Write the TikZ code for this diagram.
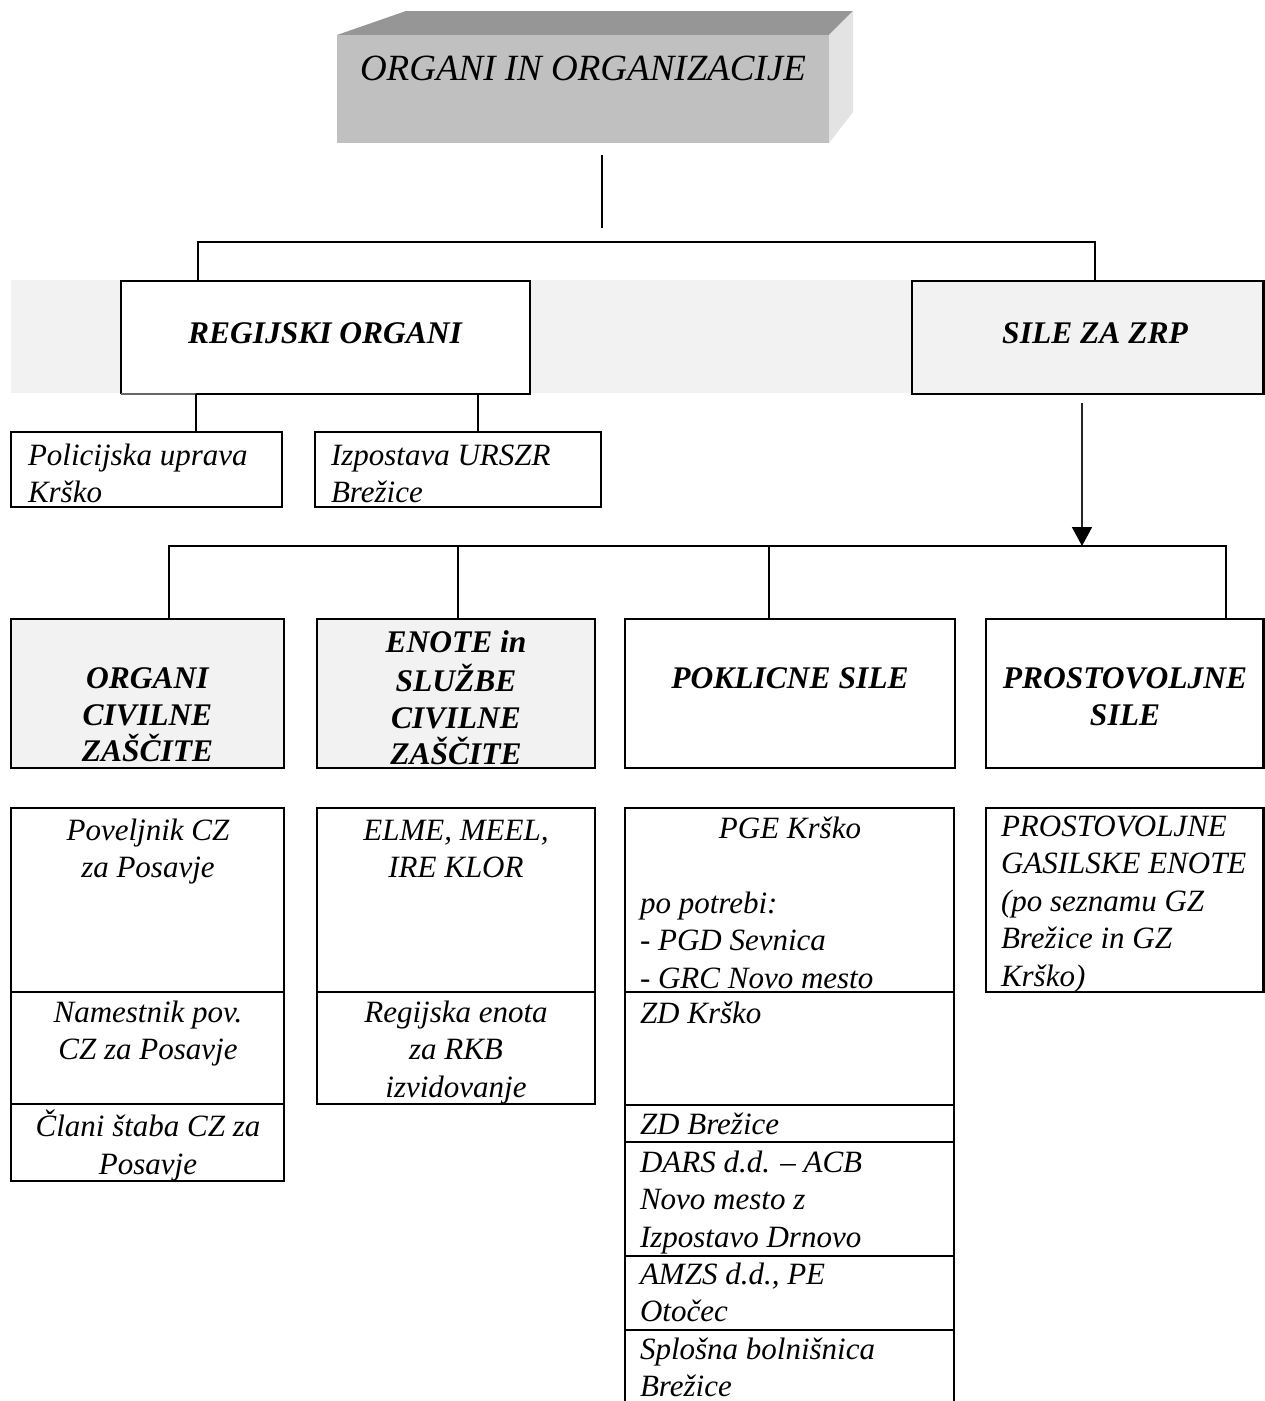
\documentclass[tikz,border=0pt]{standalone}
\usepackage{fontspec}
\setmainfont{Liberation Serif}
\usetikzlibrary{arrows.meta}
\definecolor{band}{HTML}{F2F2F2}
\definecolor{frontgray}{HTML}{C0C0C0}
\definecolor{topgray}{HTML}{969696}
\definecolor{sidegray}{HTML}{E3E3E3}
\begin{document}
\begin{tikzpicture}[x=1pt,y=-1pt,
  box/.style={draw=black,line width=2.9pt,inner sep=0pt,outer sep=0pt,anchor=north west,fill=white},
  shaded/.style={box,fill=band},
  conn/.style={draw=black,line width=2.9pt},
  body/.style={inner sep=0pt,outer sep=0pt,font=\fontsize{31}{37.5}\selectfont\itshape},
  bodyc/.style={body,align=center,anchor=north},
  bodyl/.style={body,align=left,anchor=north west},
  head/.style={inner sep=0pt,outer sep=0pt,font=\fontsize{31.5}{36.5}\selectfont\bfseries\itshape,align=center,anchor=north},
]
\useasboundingbox (0,0) rectangle (1265,1401);
\fill[white] (0,0) rectangle (1265,1401);

% grey band behind the first level
\fill[band] (11,280) rectangle (1265,393);

% 3D title box
\fill[topgray] (337,35) -- (406,11) -- (853,11) -- (829,35) -- cycle;
\fill[sidegray] (829,35) -- (853,11) -- (853,112) -- (829,143) -- cycle;
\node[fill=frontgray,inner sep=0pt,outer sep=0pt,minimum width=492pt,minimum height=108pt,anchor=north west] (top) at (337,35) {};
\node[inner sep=0pt,font=\fontsize{37}{44}\selectfont\itshape] (toptxt) at (583,68) {ORGANI IN ORGANIZACIJE};

\coordinate (t1) at (602,155);
\coordinate (t2) at (602,228);
\draw[line width=2pt] (t1) -- (t2);

% first level
\node[box,draw=none,minimum width=409pt,minimum height=113pt] (reg) at (121,281) {};
\draw[conn,line join=miter] ([xshift=75pt]reg.south west) -- (reg.south east) -- (reg.north east) -- (reg.north west) -- (reg.south west);
\draw[black!60,line width=1.3pt] (reg.south west) -- ([xshift=75pt]reg.south west);
\node[head] (regtxt) at (325,323) {REGIJSKI ORGANI};

\node[box,fill=none,minimum width=351.5pt,minimum height=113pt] (sile) at (912,281) {};
\node[head] (siletxt) at (1095,323) {SILE ZA ZRP};

\coordinate (b1) at (198,242);
\coordinate (b2) at (1095,242);
\draw[conn,line join=miter] (b1 |- reg.north) -- (b1) -- (b2) -- (b2 |- sile.north);

% regional bodies
\node[box,minimum width=271pt,minimum height=75pt] (pol) at (11,432) {};
\node[box,minimum width=286pt,minimum height=75pt] (izp) at (315,432) {};
\node[bodyl] (poltxt) at (28,439) {\strut Policijska uprava\\Krško};
\node[bodyl] (izptxt) at (331,439) {\strut Izpostava URSZR\\Brežice};
\coordinate (k1) at (196,394);
\coordinate (k2) at (478,394);
\draw[conn] (k1) -- (k1 |- pol.north);
\draw[conn] (k2) -- (k2 |- izp.north);

% second level
\node[shaded,minimum width=273pt,minimum height=149pt] (ocz) at (11,619) {};
\node[shaded,minimum width=278pt,minimum height=149pt] (enote) at (317,619) {};
\node[box,minimum width=330pt,minimum height=149pt] (pokl) at (625,619) {};
\node[box,minimum width=277.5pt,minimum height=149pt] (pros) at (986,619) {};
\node[head] (ocztxt) at (147.5,663) {\strut ORGANI\\CIVILNE\\ZAŠČITE};
\node[head] (enotetxt) at (456,627) {\strut ENOTE in\\SLUŽBE\\CIVILNE\\ZAŠČITE};
\node[head] (pokltxt) at (790,663) {\strut POKLICNE SILE};
\node[head] (prostxt) at (1125,663) {\strut PROSTOVOLJNE\\SILE};

\coordinate (s1) at (169,546);
\coordinate (s2) at (458,546);
\coordinate (s3) at (769,546);
\coordinate (s4) at (1226,546);
\draw[conn,line join=miter] (s1 |- ocz.north) -- (s1) -- (s4) -- (s4 |- pros.north);
\draw[conn] (s2) -- (s2 |- enote.north);
\draw[conn] (s3) -- (s3 |- pokl.north);

\coordinate (a1) at (1082,403);
\draw[line width=1.6pt,black!85,-{Triangle[width=20pt,length=19pt,black]}] (a1) -- (a1 |- s1);

% lower columns
\node[box,minimum width=273pt,minimum height=184pt] (pov) at (11,808) {};
\node[box,minimum width=273pt,minimum height=112pt] (nam) at (11,992) {};
\node[box,minimum width=273pt,minimum height=77pt] (cla) at (11,1104) {};
\node[bodyc] (povtxt) at (148,814) {\strut Poveljnik CZ\\za Posavje};
\node[bodyc] (namtxt) at (148,996) {\strut Namestnik pov.\\CZ za Posavje};
\node[bodyc] (clatxt) at (148,1110) {\strut Člani štaba CZ za\\Posavje};

\node[box,minimum width=278pt,minimum height=184pt] (elme) at (317,808) {};
\node[box,minimum width=278pt,minimum height=112pt] (rkb) at (317,992) {};
\node[bodyc] (elmetxt) at (456,814) {\strut ELME, MEEL,\\IRE KLOR};
\node[bodyc] (rkbtxt) at (456,996) {\strut Regijska enota\\za RKB\\izvidovanje};

\node[box,minimum width=329pt,minimum height=184pt] (pge) at (625,808) {};
\node[box,minimum width=329pt,minimum height=113pt] (zdk) at (625,992) {};
\node[box,minimum width=329pt,minimum height=37pt] (zdb) at (625,1105) {};
\node[box,minimum width=329pt,minimum height=114pt] (dars) at (625,1142) {};
\node[box,minimum width=329pt,minimum height=74pt] (amzs) at (625,1256) {};
\node[box,draw=none,minimum width=329pt,minimum height=80pt] (spl) at (625,1330) {};
\draw[conn,line join=miter] (spl.south west) -- (spl.north west) -- (spl.north east) -- (spl.south east);
\node[bodyc] (pgetxt) at (790,812) {\strut PGE Krško};
\node[bodyl] (pgetxtb) at (640,887) {\strut po potrebi:\\- PGD Sevnica\\- GRC Novo mesto};
\node[bodyl] (zdktxt) at (640,997) {\strut ZD Krško};
\node[bodyl] (zdbtxt) at (640,1108) {\strut ZD Brežice};
\node[bodyl] (darstxt) at (640,1146) {\strut DARS d.d. – ACB\\Novo mesto z\\Izpostavo Drnovo};
\node[bodyl] (amzstxt) at (640,1258) {\strut AMZS d.d., PE\\Otočec};
\node[bodyl] (spltxt) at (640,1333) {\strut Splošna bolnišnica\\Brežice};

\node[box,minimum width=277.5pt,minimum height=184pt] (pgz) at (986,808) {};
\node[bodyl] (pgztxt) at (1001,810) {\strut PROSTOVOLJNE\\GASILSKE ENOTE\\(po seznamu GZ\\Brežice in GZ\\Krško)};
\end{tikzpicture}
\end{document}
